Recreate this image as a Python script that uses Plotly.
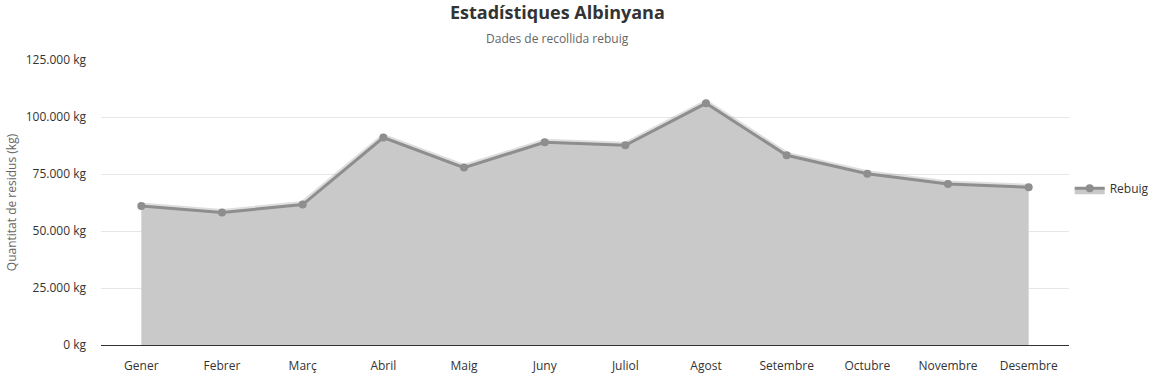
import plotly.graph_objects as go

months = ["Gener", "Febrer", "Març", "Abril", "Maig", "Juny", "Juliol",
          "Agost", "Setembre", "Octubre", "Novembre", "Desembre"]
rebuig = [61000, 58100, 61600, 91000, 77800, 88900, 87600,
          106000, 83200, 75100, 70600, 69200]
y_ticks = [0, 25000, 50000, 75000, 100000, 125000]
y_ticktext = [f"{v:,}".replace(",", ".") + " kg" for v in y_ticks]

FONT = "Open Sans, Noto Sans, sans-serif"

fig = go.Figure()
# soft shadow under the line
fig.add_trace(go.Scatter(
    x=months, y=rebuig, mode="lines",
    line=dict(color="rgba(0,0,0,0.13)", width=7),
    hoverinfo="skip", showlegend=False))
fig.add_trace(go.Scatter(
    x=months, y=rebuig, mode="lines+markers", name="Rebuig",
    fill="tozeroy", fillcolor="rgb(201,201,201)",
    line=dict(color="rgb(142,142,142)", width=3),
    marker=dict(color="rgb(142,142,142)", size=8)))

fig.update_layout(
    width=1157, height=376,
    margin=dict(l=101, r=88, t=60, b=31, autoexpand=False),
    paper_bgcolor="white", plot_bgcolor="white",
    font=dict(family=FONT, size=12, color="#333333"),
    showlegend=True,
    legend=dict(x=1.0875, y=0.55, xanchor="right", yanchor="middle",
                itemwidth=30, font=dict(size=12, color="#333333")),
    annotations=[
        dict(text="<b>Estadístiques Albinyana</b>", xref="paper", yref="paper",
             x=(557 - 101) / 968, y=1, yshift=48, showarrow=False,
             font=dict(size=18, color="#333333"), xanchor="center", yanchor="middle"),
        dict(text="Dades de recollida rebuig", xref="paper", yref="paper",
             x=(557 - 101) / 968, y=1, yshift=22, showarrow=False,
             font=dict(size=12, color="#666666"), xanchor="center", yanchor="middle"),
    ],
)
fig.update_xaxes(
    showgrid=False, showline=True, linecolor="#333333", linewidth=1,
    ticks="", ticklabelstandoff=10, tickfont=dict(size=12, color="#333333"),
    range=[-0.5, 11.5], automargin=False)
fig.update_yaxes(
    range=[0, 125000], tickvals=y_ticks, ticktext=y_ticktext,
    showgrid=True, gridcolor="#e6e6e6", gridwidth=1, zeroline=False,
    showline=False, ticks="", ticklabelstandoff=14,
    tickfont=dict(size=12, color="#333333"), automargin=False,
    title=dict(text="Quantitat de residus (kg)", standoff=6,
               font=dict(size=12, color="#666666")))

fig.write_html("out.html")
